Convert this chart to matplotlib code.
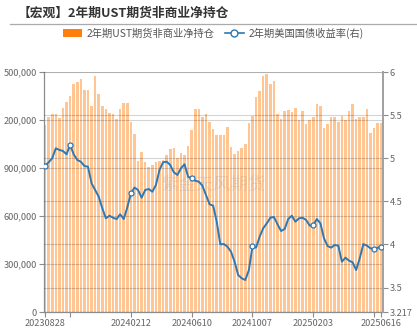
import matplotlib
matplotlib.use("Agg")
import matplotlib.pyplot as plt
from matplotlib.lines import Line2D
from matplotlib.patches import Patch
import pandas as pd

plt.rcParams['font.family'] = ['Noto Sans CJK SC', 'DejaVu Sans']

dates = list(pd.date_range('2023-08-28', periods=95, freq='7D').strftime('%Y%m%d'))

net_pos = [1169000, 1216000, 1235000, 1240000, 1215000, 1277000, 1315000, 1352000,
           1423000, 1435000, 1454000, 1387000, 1387000, 1290000, 1475000, 1360000,
           1290000, 1267000, 1242000, 1238000, 1206000, 1269000, 1306000, 1306000,
           1190000, 1110000, 944000, 998000, 940000, 908000, 919000, 935000,
           944000, 950000, 981000, 1019000, 1023000, 965000, 992000, 981000,
           1037000, 1137000, 1267000, 1267000, 1221000, 1235000, 1185000, 1144000,
           1106000, 1106000, 1106000, 1154000, 1033000, 985000, 1006000, 1027000,
           1048000, 1179000, 1227000, 1342000, 1381000, 1477000, 1485000, 1425000,
           1446000, 1235000, 1206000, 1256000, 1260000, 1252000, 1273000, 1200000,
           1258000, 1175000, 1200000, 1217000, 1298000, 1290000, 1152000, 1173000,
           1221000, 1217000, 1185000, 1225000, 1200000, 1256000, 1298000, 1206000,
           1221000, 1221000, 1269000, 1121000, 1148000, 1183000, 1183000]

yield_2y = [4.913, 4.953, 5.0, 5.115, 5.096, 5.084, 5.046, 5.153, 5.046, 4.98, 4.96, 4.91,
            4.902, 4.71, 4.632, 4.554, 4.42, 4.303, 4.334, 4.31, 4.295, 4.35, 4.295, 4.43,
            4.593, 4.66, 4.632, 4.542, 4.632, 4.643, 4.612, 4.69, 4.864, 4.953, 4.96, 4.922,
            4.837, 4.806, 4.883, 4.93, 4.786, 4.767, 4.74, 4.728, 4.682, 4.574, 4.466, 4.45,
            4.264, 4.002, 4.005, 3.974, 3.916, 3.8, 3.646, 3.608, 3.588, 3.704, 3.982, 3.963,
            4.09, 4.188, 4.245, 4.31, 4.319, 4.234, 4.156, 4.18, 4.295, 4.334, 4.264, 4.303,
            4.31, 4.284, 4.218, 4.226, 4.295, 4.245, 4.071, 3.982, 3.963, 3.994, 3.986, 3.8,
            3.847, 3.812, 3.793, 3.704, 3.84, 4.005, 3.986, 3.956, 3.944, 3.963, 3.971]

title = '【宏观】2年期UST期货非商业净持仓'
bar_name = '2年期UST期货非商业净持仓'
line_name = '2年期美国国债收益率(右)'
watermark = '紫金天风期货'

left_ticks = [0, 300000, 600000, 900000, 1200000, 1500000]
left_labels = ['0', '300,000', '600,000', '900,000', '200,000', '500,000']
right_ticks = [3.217, 3.5, 4, 4.5, 5, 5.5, 6]
right_labels = ['3.217', '3.5', '4', '4.5', '5', '5.5', '6']
tick_idx = [0, 7, 24, 41, 58, 75, 92, 94]
label_idx = [0, 24, 41, 58, 75, 94]
marker_idx = [0, 7, 24, 41, 58, 75, 92, 94]

BAR = '#FF7F0E'
LINE = '#2E78B4'
TXT = '#666666'
SPINE = '#8c8c8c'

fig = plt.figure(figsize=(4.17, 3.29), dpi=100)
ax = fig.add_axes([44/417, 17/329, (383-44)/417, 240/329])
ax2 = ax.twinx()

x = list(range(len(dates)))
ax.bar(x, net_pos, width=0.72, color=BAR, alpha=0.45, linewidth=0, zorder=2)
ax.set_ylim(0, 1500000)
ax.set_xlim(-0.3, 94.5)
ax.set_yticks(left_ticks)
ax.set_yticklabels(left_labels)
ax.grid(axis='y', color='black', alpha=0.17, linewidth=0.8, zorder=3)
ax.set_axisbelow(False)

ax2.plot(x, yield_2y, color=LINE, linewidth=1.4, zorder=5,
         marker='o', markevery=marker_idx, markersize=3.6,
         markerfacecolor='white', markeredgecolor=LINE, markeredgewidth=0.9)
ax2.set_ylim(3.217, 6)
ax2.set_yticks(right_ticks)
ax2.set_yticklabels(right_labels)
ax2.grid(axis='y', color='black', alpha=0.17, linewidth=0.8)

ax.set_xticks(tick_idx)
ax.set_xticklabels([dates[i] if i in label_idx else '' for i in tick_idx])

for a in (ax, ax2):
    a.tick_params(axis='both', labelsize=6.6, colors=SPINE, labelcolor=TXT,
                  length=3.5, width=0.8, pad=1.5)
    for s in a.spines.values():
        s.set_color(SPINE)
        s.set_linewidth(0.9)
    a.spines['top'].set_visible(False)
ax.spines['right'].set_visible(False)
ax2.spines['left'].set_visible(False)
ax2.spines['bottom'].set_visible(False)
ax2.spines['right'].set_linewidth(1.4)
ax2.spines['right'].set_color('#a0a0a0')

ax.text(0.5, 0.53, watermark, transform=ax.transAxes, ha='center', va='center',
        fontsize=12.5, color='#999999', alpha=0.22, zorder=6)

fig.text(18/417, 1 - 13/329, title, fontsize=9.2, fontweight='bold',
         color='#333333', ha='left', va='center')
fig.add_artist(Line2D([10/417, 1], [1 - 24/329, 1 - 24/329], color='#aaaaaa', linewidth=0.9))

handles = [Patch(facecolor=BAR, edgecolor='none', label=bar_name),
           Line2D([], [], color=LINE, linewidth=1.2, marker='o', markersize=5,
                  markerfacecolor='white', markeredgecolor=LINE, markeredgewidth=1.0,
                  label=line_name)]
fig.legend(handles=handles, loc='center', bbox_to_anchor=(213/417, 1 - 33/329), ncol=2,
           frameon=False, fontsize=7.4, labelcolor='#555555', handlelength=1.9,
           handleheight=0.9, handletextpad=0.4, columnspacing=1.0, borderpad=0)

fig.savefig('out.png', dpi=100)
